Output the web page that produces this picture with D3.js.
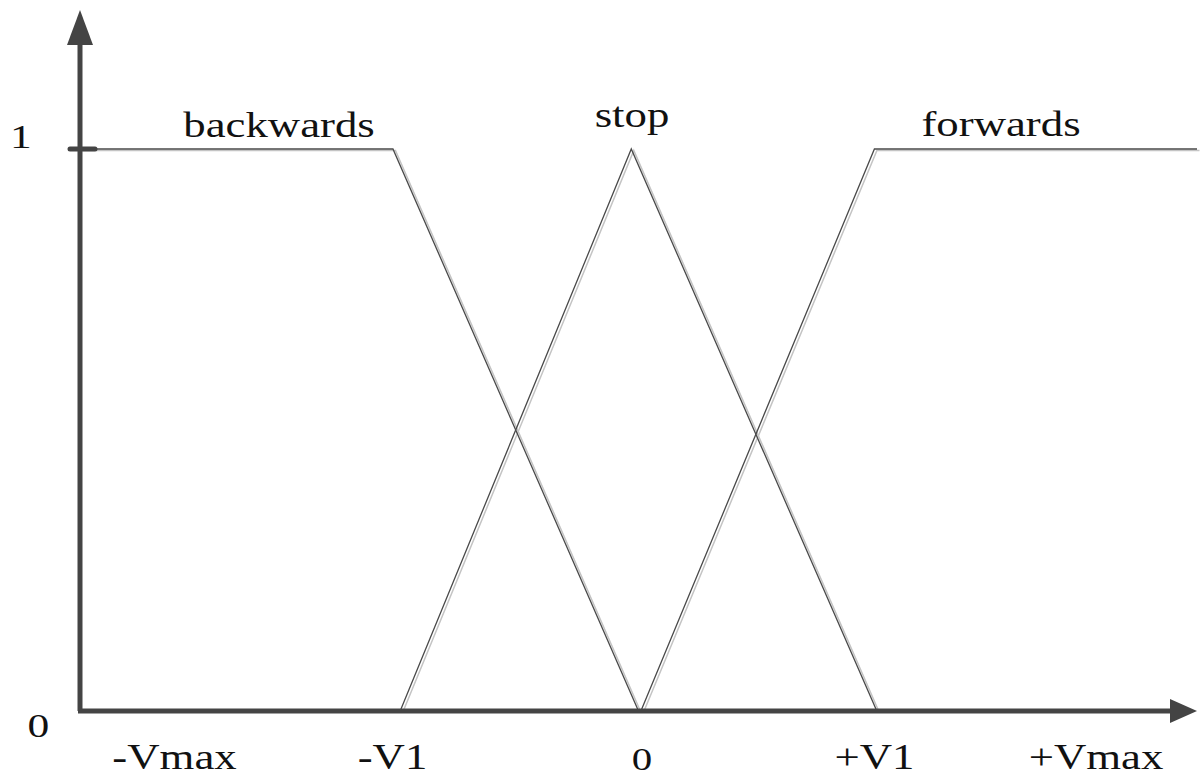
<!DOCTYPE html>
<html>
<head>
<meta charset="utf-8">
<script src="https://cdn.jsdelivr.net/npm/d3@7"></script>
<style>
  body { margin: 0; background: #fff; }
  svg { display: block; }
  text { font-family: "Liberation Serif", "DejaVu Serif", serif; fill: #111; }
</style>
</head>
<body>
<svg id="chart"></svg>
<script>
// membership functions (x in units of V1, Vmax = 2)
var backwards = [[-2.32, 1], [-1.02, 1], [0, 0]];
var stop = [[-0.99, 0], [-0.03, 1], [0.99, 0]];
var forwards = [[0.01, 0], [0.98, 1], [2.32, 1]];

var setNames = ["backwards", "stop", "forwards"];
var tickValues = [-2, -1, 0, 1, 2];
var tickLabels = ["-Vmax", "-V1", "0", "+V1", "+Vmax"];

const width = 1201;
const height = 778;
const stretch = 1.28; // the text in the picture is wider than normal

const svg = d3.select("#chart")
    .attr("width", width)
    .attr("height", height);

// scales
const x = d3.scaleLinear().domain([-2.32, 2.32]).range([80, 1197]);
const y = d3.scaleLinear().domain([0, 1]).range([711, 149]);

const line = d3.line()
    .x(function (d) { return x(d[0]); })
    .y(function (d) { return y(d[1]); });

var curves = [backwards, stop, forwards];

// light shadow line first, then the dark one
svg.append("g")
    .attr("transform", "translate(2.5,1.5)")
    .selectAll("path")
    .data(curves)
    .enter()
    .append("path")
    .attr("d", line)
    .attr("fill", "none")
    .attr("stroke", "#c4c4c4")
    .attr("stroke-width", 1.5);

svg.append("g")
    .selectAll("path")
    .data(curves)
    .enter()
    .append("path")
    .attr("d", line)
    .attr("fill", "none")
    .attr("stroke", "#4a4a4a")
    .attr("stroke-width", 1.3);

// axes
const axisColor = "#444";
svg.append("line")
    .attr("x1", 80).attr("y1", y(0))
    .attr("x2", 80).attr("y2", 40)
    .attr("stroke", axisColor).attr("stroke-width", 5);
svg.append("path")
    .attr("d", "M80,10 L67,45 L93,45 Z")
    .attr("fill", axisColor);

svg.append("line")
    .attr("x1", 78).attr("y1", y(0))
    .attr("x2", 1172).attr("y2", y(0))
    .attr("stroke", axisColor).attr("stroke-width", 5);
svg.append("path")
    .attr("d", "M1197," + y(0) + " L1170," + (y(0) - 12) + " L1170," + (y(0) + 12) + " Z")
    .attr("fill", axisColor);

// tick at 1
svg.append("line")
    .attr("x1", 70).attr("y1", y(1))
    .attr("x2", 95).attr("y2", y(1))
    .attr("stroke", axisColor).attr("stroke-width", 5)
    .attr("stroke-linecap", "round");

function addText(cx, by, size, str) {
    svg.append("text")
        .attr("transform", "translate(" + cx + "," + by + ") scale(" + stretch + ",1)")
        .attr("text-anchor", "middle")
        .attr("font-size", size)
        .text(str);
}

// y labels
addText(21, 148, 34, "1");
addText(38.5, 737, 34, "0");

// x labels (kept just inside the bottom edge)
var labelX = [174.5, 392.5, 642, 874.5, 1096];
tickValues.forEach(function (d, i) {
    addText(labelX[i], i == 2 ? 770 : 769, i == 2 ? 32 : 35, tickLabels[i]);
});

// set names
var namePos = [[279, 137], [632, 127], [1001, 136]];
setNames.forEach(function (d, i) {
    addText(namePos[i][0], namePos[i][1], 35, d);
});
</script>
</body>
</html>
